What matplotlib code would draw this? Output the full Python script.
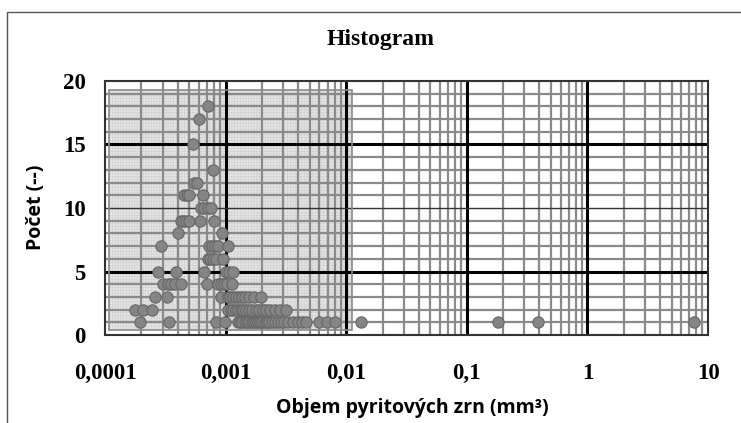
import matplotlib.pyplot as plt
from matplotlib.patches import Rectangle
from matplotlib.ticker import FixedLocator, NullFormatter

################# 1 data ################################
# volume of pyrite grains (mm3) and count
objem = [
    7.2e-4,
    6.0e-4,
    5.4e-4,
    7.8e-4,
    5.5e-4, 5.8e-4,
    4.55e-4, 4.8e-4, 5.0e-4, 6.5e-4,
    6.25e-4, 6.65e-4, 7.1e-4, 7.55e-4,
    4.25e-4, 4.45e-4, 4.7e-4, 5.0e-4, 6.15e-4, 8.05e-4,
    4.05e-4, 9.3e-4,
    2.9e-4, 7.3e-4, 7.75e-4, 8.2e-4, 8.6e-4, 1.05e-3,
    7.1e-4, 7.45e-4, 7.9e-4, 8.3e-4, 9.45e-4,
    2.75e-4, 3.85e-4, 6.65e-4, 1.0e-3, 1.07e-3, 1.16e-3,
    3.05e-4, 3.3e-4, 3.55e-4, 3.8e-4, 4.25e-4, 6.95e-4, 8.6e-4, 9.2e-4, 9.75e-4, 1.03e-3, 1.14e-3,
    2.6e-4, 3.25e-4, 9.15e-4, 1.04e-3, 1.09e-3, 1.15e-3, 1.21e-3, 1.28e-3, 1.36e-3, 1.45e-3,
    1.56e-3, 1.72e-3, 1.95e-3,
    1.77e-4, 2.07e-4, 2.43e-4, 1.04e-3, 1.10e-3, 1.15e-3, 1.21e-3, 1.27e-3, 1.33e-3, 1.40e-3,
    1.48e-3, 1.56e-3, 1.66e-3, 1.77e-3, 1.90e-3, 2.03e-3, 2.18e-3, 2.35e-3, 2.58e-3, 2.85e-3, 3.15e-3,
    1.94e-4, 3.4e-4, 8.3e-4, 9.8e-4, 1.26e-3, 1.32e-3, 1.38e-3, 1.44e-3, 1.50e-3, 1.57e-3, 1.64e-3,
    1.71e-3, 1.78e-3, 1.86e-3, 1.94e-3, 2.02e-3, 2.11e-3, 2.20e-3, 2.30e-3, 2.42e-3, 2.55e-3,
    2.70e-3, 2.86e-3, 3.05e-3, 3.30e-3, 3.60e-3, 3.95e-3, 4.30e-3, 4.65e-3, 6.0e-3, 6.95e-3,
    8.0e-3, 0.0132, 0.182, 0.393, 7.7,
]
pocet = (
    [18] + [17] + [15] + [13] + [12] * 2 + [11] * 4 + [10] * 4 + [9] * 6 + [8] * 2 + [7] * 6
    + [6] * 5 + [5] * 6 + [4] * 11 + [3] * 13 + [2] * 21 + [1] * 36
)

x_ticks = [1e-4, 1e-3, 1e-2, 1e-1, 1, 10]
x_labels = ['0,0001', '0,001', '0,01', '0,1', '1', '10']
y_ticks = [0, 5, 10, 15, 20]

# shaded background block behind the points
box_x = (1.08e-4, 1.11e-2)
box_y = (0.4, 19.3)

################# 2 canvas ###########################
fig = plt.figure(figsize=(7.41, 4.23), dpi=100)
ax = fig.add_axes([105 / 741, 88 / 423, 603 / 741, 254 / 423])

# outer frame of the chart (cut off at right and bottom)
fig.patches.append(Rectangle((7 / 741, -0.1), 1.2, 411 / 423 + 0.1,
                             transform=fig.transFigure, fill=False,
                             edgecolor='#555555', linewidth=1.0))

ax.set_xscale('log')
ax.set_xlim(1e-4, 10)
ax.set_ylim(0, 20)

################ 3 grid and shaded block ################
minor_x = [m * 10.0 ** e for e in range(-4, 1) for m in range(2, 10)]
for v in minor_x:
    ax.axvline(v, color='#8a8a8a', linewidth=1.6, zorder=0.5)
for v in range(1, 20):
    if v % 5:
        ax.axhline(v, color='#8a8a8a', linewidth=1.6, zorder=0.5)
for v in x_ticks[1:-1]:
    ax.axvline(v, color='black', linewidth=2.2, zorder=0.6)
for v in [5, 15]:
    ax.axhline(v, color='black', linewidth=2.2, zorder=0.6)
ax.axhline(10, color='#333333', linewidth=1.0, zorder=0.6)

plt.rcParams['hatch.linewidth'] = 0.4
ax.add_patch(Rectangle((box_x[0], box_y[0]), box_x[1] - box_x[0], box_y[1] - box_y[0],
                       facecolor='#e4e4e4', edgecolor='#d0d0d0', hatch='++++++',
                       linewidth=0, zorder=0.2))
ax.add_patch(Rectangle((box_x[0], box_y[0]), box_x[1] - box_x[0], box_y[1] - box_y[0],
                       fill=False, edgecolor='#8a8a8a', linewidth=1.2, zorder=0.7))

################ 4 points ################
ax.scatter(objem, pocet, s=66, facecolor='#858585', edgecolor='#666666',
           linewidth=0.8, zorder=3, clip_on=False)

############### 5 axes layout ############################
for spine in ax.spines.values():
    spine.set_color('#333333')
    spine.set_linewidth(1.5)

ax.xaxis.set_major_locator(FixedLocator(x_ticks))
ax.xaxis.set_minor_locator(FixedLocator(minor_x))
ax.xaxis.set_minor_formatter(NullFormatter())
ax.set_xticklabels(x_labels)
ax.set_yticks(y_ticks)
ax.tick_params(axis='both', which='both', length=0)
ax.tick_params(axis='x', pad=20)
ax.tick_params(axis='y', pad=14)
for lab in ax.get_xticklabels() + ax.get_yticklabels():
    lab.set_fontfamily('Liberation Serif')
    lab.set_fontweight('bold')
    lab.set_fontsize(16.5)

fig.text(381 / 741, 1 - 39 / 423, 'Histogram', ha='center', va='center',
         fontfamily='Liberation Serif', fontweight='bold', fontsize=17)
fig.text(412 / 741, 1 - 408 / 423, 'Objem pyritových zrn (mm³)', ha='center', va='center',
         fontfamily='Open Sans', fontweight='bold', fontsize=14)
fig.text(36 / 741, 1 - 207 / 423, 'Počet (--)', ha='center', va='center', rotation=90,
         fontfamily='Open Sans', fontweight='bold', fontsize=14)

fig.savefig('out.png', dpi=100)
